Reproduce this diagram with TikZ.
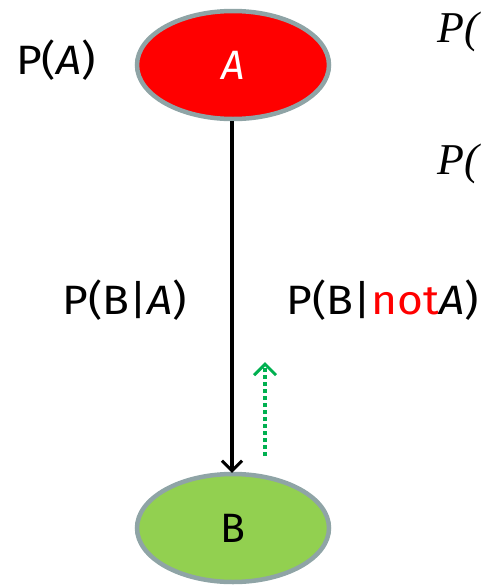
\documentclass[tikz,border=0pt]{standalone}
\usepackage{fontspec}
\setmainfont{Fira Sans}
\newfontfamily\mathserif{Liberation Serif}
\usetikzlibrary{arrows.meta,shapes.geometric}
\definecolor{rimgray}{HTML}{8FA4A6}
\definecolor{nodered}{HTML}{FF0000}
\definecolor{nodegreen}{HTML}{92D050}
\definecolor{dotgreen}{HTML}{00B050}
\newcommand{\wide}[1]{\scalebox{1.08}[1]{#1}}
\tikzset{
  px/.style={x=1pt,y=-1pt},
  bnode/.style={ellipse, draw=rimgray, line width=4.5pt, minimum width=192pt, minimum height=108pt, inner sep=0pt},
  lbl/.style={font=\fontsize{41}{46}\selectfont, inner sep=0pt},
  tip/.style={-{Straight Barb[length=10pt,width=20pt,line width=3pt]}},
  serifP/.style={anchor=west, inner sep=0pt, font=\fontsize{44}{50}\selectfont\mathserif\itshape}
}
\begin{document}
\begin{tikzpicture}[px]
  \useasboundingbox (0,0) rectangle (481,587);
  \begin{scope}
    \clip (0,0) rectangle (481,587);
    \node[serifP] (pa1) at (437,32) {P(};
    \node[serifP] (pa2) at (437,164) {P(};
  \end{scope}
  \node[bnode, fill=nodered, text=white, font=\fontsize{41}{46}\selectfont\itshape] (A) at (233,65) {A};
  \node[bnode, fill=nodegreen, text=black, font=\fontsize{41}{46}\selectfont] (B) at (233,528) {B};
  \node[lbl] (pA) at (56,60) {\wide{P(\textit{A})}};
  \node[lbl] (pBA) at (125,300) {\wide{P(B|\textit{A})}};
  \node[lbl, anchor=east] (pBnA) at (479,300) {\wide{P(B|\textcolor{nodered}{not}\textit{A})}};
  \draw[tip, line width=3.5pt] (A.south -| 232,0) -- ([yshift=-1pt]B.north -| 232,0);
  \coordinate (gs) at (265,456);
  \coordinate (ge) at (265,362);
  \draw[-{Straight Barb[length=11pt,width=22pt,line width=3pt]}, dotgreen, line width=3.5pt, dash pattern=on 4pt off 3pt] (gs) -- (ge);
\end{tikzpicture}
\end{document}
